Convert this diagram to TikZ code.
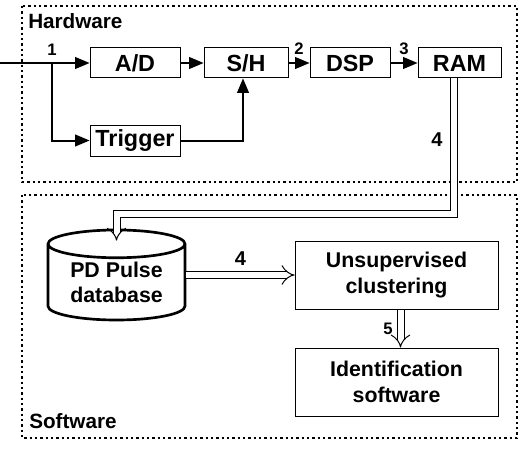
\documentclass[tikz,border=0pt]{standalone}
\usepackage{fontspec}
\setmainfont{Liberation Sans}
\usetikzlibrary{positioning}
\usetikzlibrary{shapes}
\usetikzlibrary{arrows}
\usetikzlibrary{arrows.meta}
\tikzstyle{B} = [rectangle,draw=black,fill=white,line width=0.75pt,minimum height=22.5pt,inner sep=0pt,font=\bfseries\fontsize{17.5}{20}\selectfont]
\tikzstyle{S} = [B,minimum width=152.25pt,minimum height=51pt,align=center,font=\bfseries\fontsize{16}{19.5}\selectfont]
\tikzstyle{C} = [cylinder,shape border rotate=90,aspect=0.3,draw=black,fill=white,line width=2pt,minimum width=102.75pt,minimum height=67.5pt,inner sep=0pt,align=center,font=\bfseries\fontsize{16}{19}\selectfont]
\tikzstyle{T} = [inner sep=0pt,font=\bfseries\fontsize{15.5}{18}\selectfont]
\tikzstyle{N} = [inner sep=0pt,font=\bfseries\fontsize{12.5}{14}\selectfont]
\tikzstyle{M} = [N,font=\bfseries\fontsize{15}{17}\selectfont]
\tikzstyle{G} = [draw=black,line width=1.7pt,dash pattern=on 1.7pt off 2.3pt]
\tikzstyle{A} = [->,line width=1.5pt]
\tikzstyle{D} = [-{Implies[scale=1.5]},double=white,double distance=4.5pt,line width=0.75pt]
\tikzset{>={triangle 45}}
\begin{document}
\begin{tikzpicture}[x=0.75pt,y=-0.75pt]
  \useasboundingbox (0,0) rectangle (530,449);
  \draw [G] (22,6) rectangle (517,182);
  \draw [G] (22,195) rectangle (517,438);
  \node [T,anchor=base west] (hw) at (28,29) {Hardware};
  \node [T,anchor=base west] (sw) at (29,428) {Software};

  \node [B,minimum width=67.5pt] (ad) at (135,63) {A/D};
  \node [B,minimum width=63pt,right=17.25pt of ad] (sh) {S/H};
  \node [B,minimum width=60pt,right=15.75pt of sh] (dsp) {DSP};
  \node [B,minimum width=62.25pt,right=20.25pt of dsp] (ram) {RAM};
  \node [B,minimum width=67.5pt,minimum height=23.25pt,below=34.5pt of ad] (trig) {Trigger};

  \coordinate (in) at (0,63);
  \coordinate (br) at (52,63);
  \node [N,above=5.5pt of br] (n1) {1};
  \draw [A] (in) -- (ad);
  \draw [A] (br) |- (trig);
  \draw [A] (trig) -| ([xshift=-2.25pt]sh.south);
  \draw [A] (ad) -- (sh);
  \draw [A] (sh) -- (dsp) node [N,midway,above=5.5pt] {2};
  \draw [A] (dsp) -- (ram) node [N,midway,above=5.5pt] {3};

  \node [C,anchor=shape center] (db) at (116.5,275) {PD Pulse\\database};
  \node [S] (un) at (396.5,275) {Unsupervised\\clustering};
  \node [S,below=28.5pt of un] (id) {Identification\\software};

  \coordinate (turn) at (453.5,214);
  \draw [D] (ram.south -| turn) -- (turn) node [M,pos=0.45,left=7.9pt] {4}
    -| ([yshift=-9pt]db.north);
  \draw [D] (db.east |- un.west) -- (un.west) node [M,midway,above=6.4pt] {4};
  \draw [D] ([xshift=3pt]un.south) -- ([xshift=3pt]id.north) node [N,midway,left=5.6pt] {5};
\end{tikzpicture}
\end{document}
